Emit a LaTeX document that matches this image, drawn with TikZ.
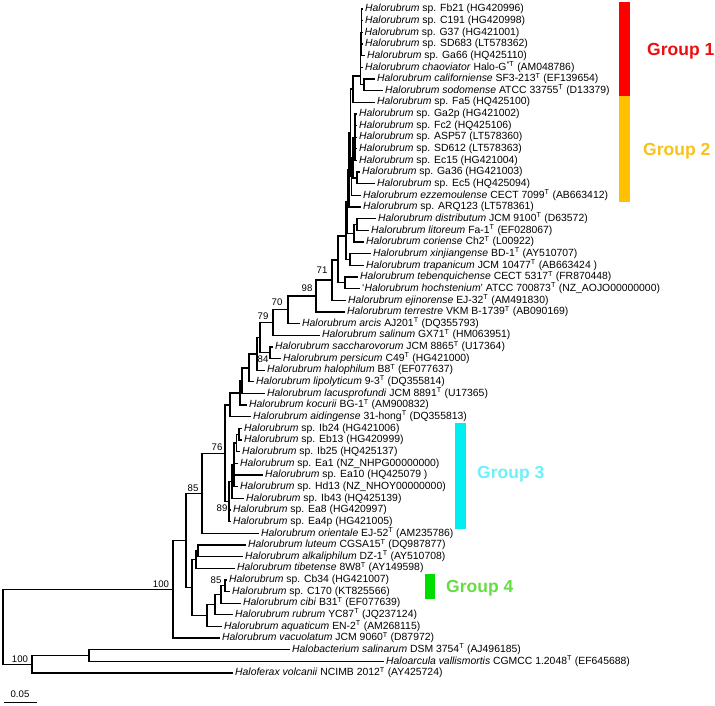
\documentclass[tikz,border=0pt]{standalone}
\usepackage{fontspec}
\setmainfont{Liberation Sans}
\newcommand{\typT}{\textsuperscript{T}}
\newcommand{\Hr}{\textit{Halorubrum}}
\definecolor{gonebar}{HTML}{FF0000}
\definecolor{gonetxt}{HTML}{E81010}
\definecolor{gtwobar}{HTML}{FFC000}
\definecolor{gtwotxt}{HTML}{F8C21A}
\definecolor{gthreebar}{HTML}{00EEF2}
\definecolor{gthreetxt}{HTML}{6EF0FA}
\definecolor{gfourbar}{HTML}{00DD00}
\definecolor{gfourtxt}{HTML}{66DD44}
\begin{document}
\begin{tikzpicture}[x=1pt,y=-1pt,
  br/.style={line width=1.3pt},
  leaf/.style={anchor=west, inner xsep=2pt, inner ysep=0pt, text height=7.5pt, text depth=2pt, font=\fontsize{10.4}{12}\selectfont},
  bs/.style={inner sep=0pt, font=\fontsize{9.6}{11}\selectfont},
  grp/.style={anchor=base west, inner sep=0pt, font=\fontsize{17.5}{20}\selectfont\bfseries}]
\useasboundingbox (0,0) rectangle (715,706);
\fill[white] (0,0) rectangle (715,706);

% ---------- leaves ----------
\node[leaf] (L1) at (363,9.0) {\Hr{} sp. Fb21 (HG420996)};
\node[leaf] (L2) at (363,20.7) {\Hr{} sp. C191 (HG420998)};
\node[leaf] (L3) at (362.5,32.3) {\Hr{} sp. G37 (HG421001)};
\node[leaf] (L4) at (363,44.0) {\Hr{} sp. SD683 (LT578362)};
\node[leaf] (L5) at (365,55.6) {\Hr{} sp. Ga66 (HQ425110)};
\node[leaf] (L6) at (363,67.3) {\textit{Halorubrum chaoviator} Halo-G\textsuperscript{*T} (AM048786)};
\node[leaf] (L7) at (375,78.9) {\textit{Halorubrum californiense} SF3-213\typT{} (EF139654)};
\node[leaf] (L8) at (383,90.6) {\textit{Halorubrum sodomense} ATCC 33755\typT{} (D13379)};
\node[leaf] (L9) at (375,102.2) {\Hr{} sp. Fa5 (HQ425100)};
\node[leaf] (L10) at (357,113.9) {\Hr{} sp. Ga2p (HG421002)};
\node[leaf] (L11) at (357,125.5) {\Hr{} sp. Fc2 (HQ425106)};
\node[leaf] (L12) at (357,137.2) {\Hr{} sp. ASP57 (LT578360)};
\node[leaf] (L13) at (357,148.8) {\Hr{} sp. SD612 (LT578363)};
\node[leaf] (L14) at (357,160.5) {\Hr{} sp. Ec15 (HG421004)};
\node[leaf] (L15) at (360,172.1) {\Hr{} sp. Ga36 (HG421003)};
\node[leaf] (L16) at (375,183.8) {\Hr{} sp. Ec5 (HQ425094)};
\node[leaf] (L17) at (361,195.4) {\textit{Halorubrum ezzemoulense} CECT 7099\typT{} (AB663412)};
\node[leaf] (L18) at (361,207.1) {\Hr{} sp. ARQ123 (LT578361)};
\node[leaf] (L19) at (376,218.7) {\textit{Halorubrum distributum} JCM 9100\typT{} (D63572)};
\node[leaf] (L20) at (369,230.4) {\textit{Halorubrum litoreum} Fa-1\typT{} (EF028067)};
\node[leaf] (L21) at (364,242.0) {\textit{Halorubrum coriense} Ch2\typT{} (L00922)};
\node[leaf] (L22) at (371,253.7) {\textit{Halorubrum xinjiangense} BD-1\typT{} (AY510707)};
\node[leaf] (L23) at (364,265.3) {\textit{Halorubrum trapanicum} JCM 10477\typT{} (AB663424 )};
\node[leaf] (L24) at (358,277.0) {\textit{Halorubrum tebenquichense} CECT 5317\typT{} (FR870448)};
\node[leaf] (L25) at (360,288.6) {‘\textit{Halorubrum hochstenium}’ ATCC 700873\typT{} (NZ\_AOJO00000000)};
\node[leaf] (L26) at (346,300.3) {\textit{Halorubrum ejinorense} EJ-32\typT{} (AM491830)};
\node[leaf] (L27) at (345,311.9) {\textit{Halorubrum terrestre} VKM B-1739\typT{} (AB090169)};
\node[leaf] (L28) at (300,323.6) {\textit{Halorubrum arcis} AJ201\typT{} (DQ355793)};
\node[leaf] (L29) at (320,335.2) {\textit{Halorubrum salinum} GX71\typT{} (HM063951)};
\node[leaf] (L30) at (273,346.9) {\textit{Halorubrum saccharovorum} JCM 8865\typT{} (U17364)};
\node[leaf] (L31) at (281,358.5) {\textit{Halorubrum persicum} C49\typT{} (HG421000)};
\node[leaf] (L32) at (265,370.2) {\textit{Halorubrum halophilum} B8\typT{} (EF077637)};
\node[leaf] (L33) at (254,381.8) {\textit{Halorubrum lipolyticum} 9-3\typT{} (DQ355814)};
\node[leaf] (L34) at (265,393.5) {\textit{Halorubrum lacusprofundi} JCM 8891\typT{} (U17365)};
\node[leaf] (L35) at (247,405.1) {\textit{Halorubrum kocurii} BG-1\typT{} (AM900832)};
\node[leaf] (L36) at (251,416.8) {\textit{Halorubrum aidingense} 31-hong\typT{} (DQ355813)};
\node[leaf] (L37) at (242,428.4) {\Hr{} sp. Ib24 (HG421006)};
\node[leaf] (L38) at (242,440.1) {\Hr{} sp. Eb13 (HG420999)};
\node[leaf] (L39) at (240,451.7) {\Hr{} sp. Ib25 (HQ425137)};
\node[leaf] (L40) at (238,463.4) {\Hr{} sp. Ea1 (NZ\_NHPG00000000)};
\node[leaf] (L41) at (263,475.0) {\Hr{} sp. Ea10 (HQ425079 )};
\node[leaf] (L42) at (238,486.7) {\Hr{} sp. Hd13 (NZ\_NHOY00000000)};
\node[leaf] (L43) at (244,498.3) {\Hr{} sp. Ib43 (HQ425139)};
\node[leaf] (L44) at (231,510.0) {\Hr{} sp. Ea8 (HG420997)};
\node[leaf] (L45) at (231,521.6) {\Hr{} sp. Ea4p (HG421005)};
\node[leaf] (L46) at (259,533.3) {\textit{Halorubrum orientale} EJ-52\typT{} (AM235786)};
\node[leaf] (L47) at (246,544.9) {\textit{Halorubrum luteum} CGSA15\typT{} (DQ987877)};
\node[leaf] (L48) at (243,556.6) {\textit{Halorubrum alkaliphilum} DZ-1\typT{} (AY510708)};
\node[leaf] (L49) at (235,568.2) {\textit{Halorubrum tibetense} 8W8\typT{} (AY149598)};
\node[leaf] (L50) at (227,579.9) {\Hr{} sp. Cb34 (HG421007)};
\node[leaf] (L51) at (230,591.5) {\Hr{} sp. C170 (KT825566)};
\node[leaf] (L52) at (241,603.2) {\textit{Halorubrum cibi} B31\typT{} (EF077639)};
\node[leaf] (L53) at (233,614.8) {\textit{Halorubrum rubrum} YC87\typT{} (JQ237124)};
\node[leaf] (L54) at (222,626.5) {\textit{Halorubrum aquaticum} EN-2\typT{} (AM268115)};
\node[leaf] (L55) at (220,638.1) {\textit{Halorubrum vacuolatum} JCM 9060\typT{} (D87972)};
\node[leaf] (L56) at (290,649.8) {\textit{Halobacterium salinarum} DSM 3754\typT{} (AJ496185)};
\node[leaf] (L57) at (384,661.4) {\textit{Haloarcula vallismortis} CGMCC 1.2048\typT{} (EF645688)};
\node[leaf] (L58) at (233,673.1) {\textit{Haloferax volcanii} NCIMB 2012\typT{} (AY425724)};

% ---------- internal nodes ----------
\coordinate (g1x) at (361.5,32.3);
\coordinate (CS) at (364,84.75);
\coordinate (G1) at (360.5,76);
\coordinate (A) at (353,89.1);
\coordinate (G2a) at (355,137.2);
\coordinate (E5) at (357,178);
\coordinate (G2b) at (353,157.6);
\coordinate (G2) at (351.5,176.5);
\coordinate (B) at (350.5,132.8);
\coordinate (Cup) at (349,170);
\coordinate (Ndl) at (357,224.6);
\coordinate (Ndlc) at (354,233.3);
\coordinate (Cup2) at (347.5,201.6);
\coordinate (Nxt) at (350,259.5);
\coordinate (Ctop) at (346,236);
\coordinate (TH) at (345,282.8);
\coordinate (Nx) at (338,260);
\coordinate (N71) at (332,280.1);
\coordinate (N98) at (316,296);
\coordinate (N70) at (288,309.8);
\coordinate (N79) at (273,322.5);
\coordinate (Nsp) at (270,352.7);
\coordinate (X) at (260,337.6);
\coordinate (Na) at (257,353.9);
\coordinate (Nc) at (249,367.9);
\coordinate (Nd) at (242,380.7);
\coordinate (Ne) at (240,392.9);
\coordinate (Nf) at (230,404.9);
\coordinate (P1) at (239,434.3);
\coordinate (P2) at (236.5,443);
\coordinate (P3) at (234,464.9);
\coordinate (P4) at (232,481.6);
\coordinate (N89) at (229,501.6);
\coordinate (N76) at (225,453.3);
\coordinate (N85) at (202,493.3);
\coordinate (Nla) at (198,550.75);
\coordinate (Nlat) at (196,559.5);
\coordinate (N225) at (225,585.7);
\coordinate (N221) at (221,594.4);
\coordinate (N215) at (215,604.6);
\coordinate (N207) at (207,615.6);
\coordinate (N192) at (192,587.5);
\coordinate (N186) at (186,540.4);
\coordinate (N173) at (173,589.3);
\coordinate (Nhb) at (89,655.6);
\coordinate (N32) at (32,664.3);
\coordinate (Root) at (3,626.8);

% ---------- branches ----------
\foreach \p/\c in {
  g1x/L1.west, g1x/L2.west, g1x/L3.west, g1x/L4.west, g1x/L5.west,
  G1/g1x, G1/L6.west, G1/CS, CS/L7.west, CS/L8.west,
  A/G1, A/L9.west,
  G2a/L10.west, G2a/L11.west, G2a/L12.west, G2a/L13.west, G2a/L14.west,
  E5/L15.west, E5/L16.west, G2b/G2a, G2b/E5, G2/G2b, G2/L17.west,
  B/A, B/G2, Cup/B, Cup/L18.west,
  Ndl/L19.west, Ndl/L20.west, Ndlc/Ndl, Ndlc/L21.west,
  Cup2/Cup, Cup2/Ndlc, Nxt/L22.west, Nxt/L23.west, Ctop/Cup2, Ctop/Nxt,
  TH/L24.west, TH/L25.west, Nx/Ctop, Nx/TH,
  N71/Nx, N71/L26.west, N98/N71, N98/L27.west, N70/N98, N70/L28.west,
  N79/N70, N79/L29.west, Nsp/L30.west, Nsp/L31.west, X/N79, X/Nsp,
  Na/X, Na/L32.west, Nc/Na, Nc/L33.west, Nd/Nc, Nd/L34.west,
  Ne/Nd, Ne/L35.west, Nf/Ne, Nf/L36.west,
  P1/L37.west, P1/L38.west, P2/P1, P2/L39.west,
  P3/P2, P3/L40.west, P3/L41.west, P3/L42.west, P4/P3, P4/L43.west,
  N89/P4, N89/L44.west, N89/L45.west, N76/Nf, N76/N89,
  N85/N76, N85/L46.west,
  Nla/L47.west, Nla/L48.west, Nlat/Nla, Nlat/L49.west,
  N225/L50.west, N225/L51.west, N221/N225, N221/L52.west,
  N215/N221, N215/L53.west, N207/N215, N207/L54.west,
  N192/Nlat, N192/N207, N186/N85, N186/N192,
  N173/N186, N173/L55.west,
  Nhb/L56.west, Nhb/L57.west, N32/Nhb, N32/L58.west,
  Root/N173, Root/N32}
  \draw[br] (\p) |- (\c);

% ---------- bootstrap values ----------
\node[bs] (bs71) at (322,270) {71};
\node[bs] (bs98) at (307,288) {98};
\node[bs] (bs70) at (277,302) {70};
\node[bs] (bs79) at (263,316) {79};
\node[bs] (bs84) at (263,359) {84};
\node[bs] (bs76) at (217,447) {76};
\node[bs] (bs85a) at (193,488) {85};
\node[bs] (bs89) at (222,508) {89};
\node[bs] (bs85b) at (216,580) {85};
\node[bs] (bs100a) at (161,584) {100};
\node[bs] (bs100b) at (20,659) {100};

% ---------- scale bar ----------
\node[bs] (sbl) at (20,694) {0.05};
\coordinate (sb1) at (4,702.5);
\coordinate (sb2) at (37,702.5);
\draw[br] (sb1) -- (sb2);

% ---------- groups ----------
\fill[gonebar] (619,2) rectangle (630,96);
\fill[gtwobar] (619,96) rectangle (630,202);
\fill[gthreebar] (455,423) rectangle (466,529);
\fill[gfourbar] (425,574) rectangle (435,599);
\node[grp, text=gonetxt] (grp1) at (647,56) {Group 1};
\node[grp, text=gtwotxt] (grp2) at (643,155.5) {Group 2};
\node[grp, text=gthreetxt] (grp3) at (477,478) {Group 3};
\node[grp, text=gfourtxt] (grp4) at (446,592.5) {Group 4};
\end{tikzpicture}
\end{document}
